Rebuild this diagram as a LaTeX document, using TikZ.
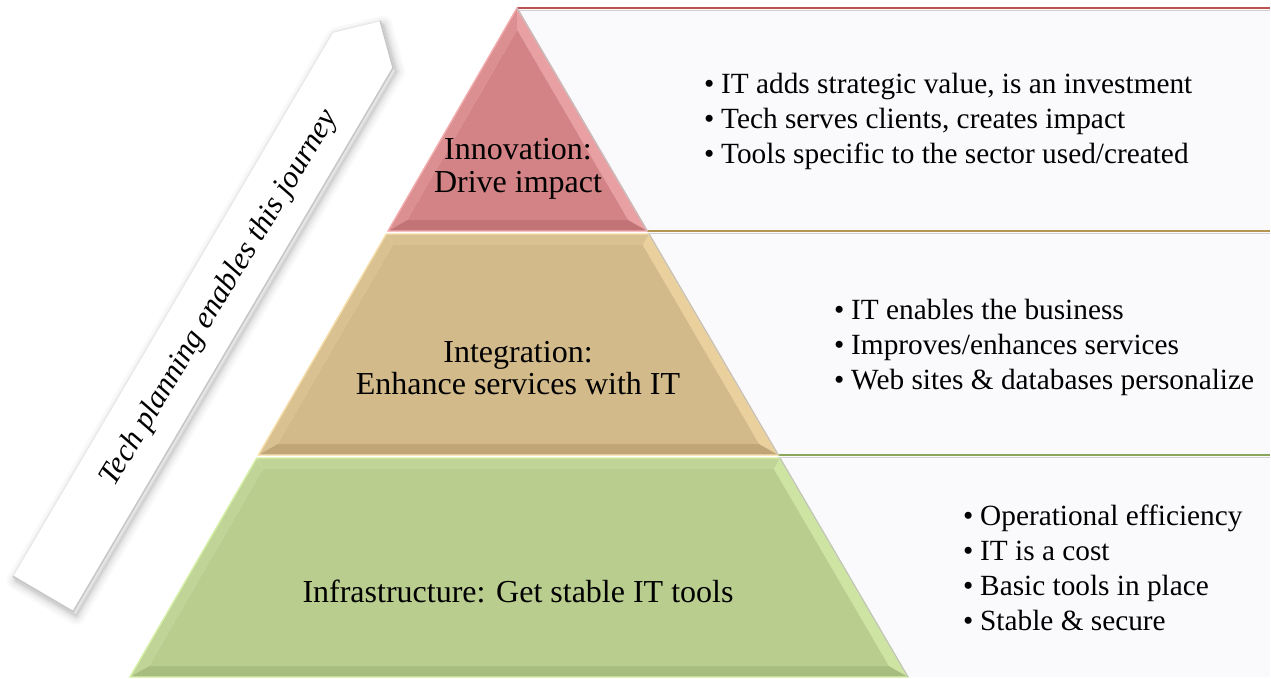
\documentclass[tikz,border=0pt]{standalone}
\usepackage{fontspec}
\setmainfont{Liberation Serif}
\definecolor{panelbg}{RGB}{250,249,252}
\definecolor{redbase}{RGB}{211,131,133}
\definecolor{redleft}{RGB}{219,143,145}
\definecolor{redright}{RGB}{233,160,162}
\definecolor{redbot}{RGB}{194,115,117}
\definecolor{redline}{RGB}{243,172,174}
\definecolor{redrule}{RGB}{190,82,80}
\definecolor{tanbase}{RGB}{211,186,138}
\definecolor{tanleft}{RGB}{217,193,146}
\definecolor{tanright}{RGB}{234,208,157}
\definecolor{tanbot}{RGB}{192,166,118}
\definecolor{tanline}{RGB}{247,222,168}
\definecolor{tanrule}{RGB}{182,148,82}
\definecolor{grnbase}{RGB}{185,205,143}
\definecolor{grnleft}{RGB}{192,212,151}
\definecolor{grnright}{RGB}{206,228,162}
\definecolor{grnbot}{RGB}{167,188,127}
\definecolor{grnline}{RGB}{214,240,166}
\definecolor{grnrule}{RGB}{138,166,90}
\newcommand\tierfont{\fontsize{32}{33}\selectfont}
\newcommand\bulfont{\fontsize{29.3}{35}\selectfont}
\newcommand\arrfont{\fontsize{31}{36}\selectfont\itshape}
\newcommand\bul{\makebox[17pt][l]{•}}
\begin{document}
\begin{tikzpicture}[x=1pt,y=-1pt,
  tierlabel/.style={font=\tierfont, inner sep=0pt, anchor=base, text=black},
  bulline/.style={font=\bulfont, inner sep=0pt, anchor=base west, text=black},
  rulebase/.style={line width=2.4pt},
  ruleshade/.style={line width=1.2pt, black!18},
  edgeline/.style={line width=1.4pt, line join=miter}]
\useasboundingbox (0,0) rectangle (1271,679);
\fill[white] (0,0) rectangle (1271,679);

% ---------- right panels ----------
\fill[panelbg] (517,8) rectangle (1270,231);
\fill[panelbg] (647,231) rectangle (1270,455);
\fill[panelbg] (778,455) rectangle (1270,677);
\draw[ruleshade] (517,10.5) -- (1270,10.5);
\draw[ruleshade] (647,233.5) -- (1270,233.5);
\draw[ruleshade] (778,457.5) -- (1270,457.5);
\draw[rulebase, redrule] (517,8) -- (1270,8);
\draw[rulebase, tanrule] (647,231) -- (1270,231);
\draw[rulebase, grnrule] (778,455) -- (1270,455);

% ---------- tier 1 (red) ----------
\coordinate (t1a) at (517,8);
\coordinate (t1bl) at (388,231);
\coordinate (t1br) at (647.3,231);
\coordinate (t1ia) at (517.1,29.8);
\coordinate (t1ibl) at (407.1,220);
\coordinate (t1ibr) at (628.2,220);
\fill[redleft] (t1a) -- (t1bl) -- (t1ibl) -- (t1ia) -- cycle;
\fill[redright] (t1a) -- (t1br) -- (t1ibr) -- (t1ia) -- cycle;
\fill[redbot] (t1bl) -- (t1br) -- (t1ibr) -- (t1ibl) -- cycle;
\fill[redbase] (t1ia) -- (t1ibl) -- (t1ibr) -- cycle;
\draw[edgeline, redline] (t1a) -- (t1bl) -- (t1br) -- cycle;
\draw[line width=1pt, black!25] (t1a) -- (t1br);

% ---------- tier 2 (tan) ----------
\coordinate (t2tl) at (386.3,234);
\coordinate (t2tr) at (649.1,234);
\coordinate (t2bl) at (258.4,455);
\coordinate (t2br) at (778.3,455);
\coordinate (t2itl) at (392.6,245);
\coordinate (t2itr) at (642.8,245);
\coordinate (t2ibl) at (277.5,444);
\coordinate (t2ibr) at (759.1,444);
\fill[tanleft] (t2tl) -- (t2bl) -- (t2ibl) -- (t2itl) -- cycle;
\fill[tanright] (t2tr) -- (t2br) -- (t2ibr) -- (t2itr) -- cycle;
\fill[tanleft] (t2tl) -- (t2tr) -- (t2itr) -- (t2itl) -- cycle;
\fill[tanbot] (t2bl) -- (t2br) -- (t2ibr) -- (t2ibl) -- cycle;
\fill[tanbase] (t2itl) -- (t2itr) -- (t2ibr) -- (t2ibl) -- cycle;
\draw[edgeline, tanline] (t2tl) -- (t2tr) -- (t2br) -- (t2bl) -- cycle;
\draw[line width=1pt, black!25] (t2tr) -- (t2br);

% ---------- tier 3 (green) ----------
\coordinate (t3tl) at (256.7,458);
\coordinate (t3tr) at (780,458);
\coordinate (t3bl) at (130,677);
\coordinate (t3br) at (908,677);
\coordinate (t3itl) at (263,469);
\coordinate (t3itr) at (773.8,469);
\coordinate (t3ibl) at (149,666);
\coordinate (t3ibr) at (888.9,666);
\fill[grnleft] (t3tl) -- (t3bl) -- (t3ibl) -- (t3itl) -- cycle;
\fill[grnright] (t3tr) -- (t3br) -- (t3ibr) -- (t3itr) -- cycle;
\fill[grnleft] (t3tl) -- (t3tr) -- (t3itr) -- (t3itl) -- cycle;
\fill[grnbot] (t3bl) -- (t3br) -- (t3ibr) -- (t3ibl) -- cycle;
\fill[grnbase] (t3itl) -- (t3itr) -- (t3ibr) -- (t3ibl) -- cycle;
\draw[edgeline, grnline] (t3tl) -- (t3tr) -- (t3br) -- (t3bl) -- cycle;
\draw[line width=1pt, black!25] (t3tr) -- (t3br);

% ---------- arrow ----------
\coordinate (ar1) at (12.8,576.3);
\coordinate (ar2) at (73.2,611.7);
\coordinate (ar3) at (393.1,67.8);
\coordinate (ar4) at (380.2,20.8);
\coordinate (ar5) at (332.7,32.4);
\begin{scope}[transform canvas={shift={(3pt,-4pt)}}]
\foreach \w/\o in {18/0.025,13/0.03,8/0.04,4/0.05,1/0.06}
  \draw[line width=\w pt, black, opacity=\o, line join=round]
    (ar1) -- (ar2) -- (ar3) -- (ar4) -- (ar5) -- cycle;
\end{scope}
\fill[white] (ar1) -- (ar2) -- (ar3) -- (ar4) -- (ar5) -- cycle;
\draw[line width=1.6pt, black!22, line join=round] (ar1) -- (ar2) -- (ar3) -- (ar4);
\draw[line width=0.8pt, black!10, line join=round] (ar4) -- (ar5) -- (ar1);
\node[font=\arrfont, inner sep=0pt, anchor=base, rotate=59, text=black] (arrtext)
  at (226,302) {Tech planning enables this journey};

% ---------- tier labels ----------
\node[tierlabel] (l1a) at (518,160) {Innovation:};
\node[tierlabel] (l1b) at (518,193) {Drive impact};
\node[tierlabel] (l2a) at (518,362) {Integration:};
\node[tierlabel] (l2b) at (518,394) {Enhance services with IT};
\node[tierlabel] (l3a) at (518,602) {Infrastructure: Get stable IT tools};

% ---------- bullets ----------
\node[bulline] (p1a) at (704,94)  {\bul IT adds strategic value, is an investment};
\node[bulline] (p1b) at (704,129) {\bul Tech serves clients, creates impact};
\node[bulline] (p1c) at (704,164) {\bul Tools specific to the sector used/created};

\node[bulline] (p2a) at (834,319) {\bul IT enables the business};
\node[bulline] (p2b) at (834,354) {\bul Improves/enhances services};
\node[bulline] (p2c) at (834,389) {\bul Web sites \& databases personalize};

\node[bulline] (p3a) at (963,525) {\bul Operational efficiency};
\node[bulline] (p3b) at (963,560) {\bul IT is a cost};
\node[bulline] (p3c) at (963,595) {\bul Basic tools in place};
\node[bulline] (p3d) at (963,630) {\bul Stable \& secure};
\end{tikzpicture}
\end{document}
